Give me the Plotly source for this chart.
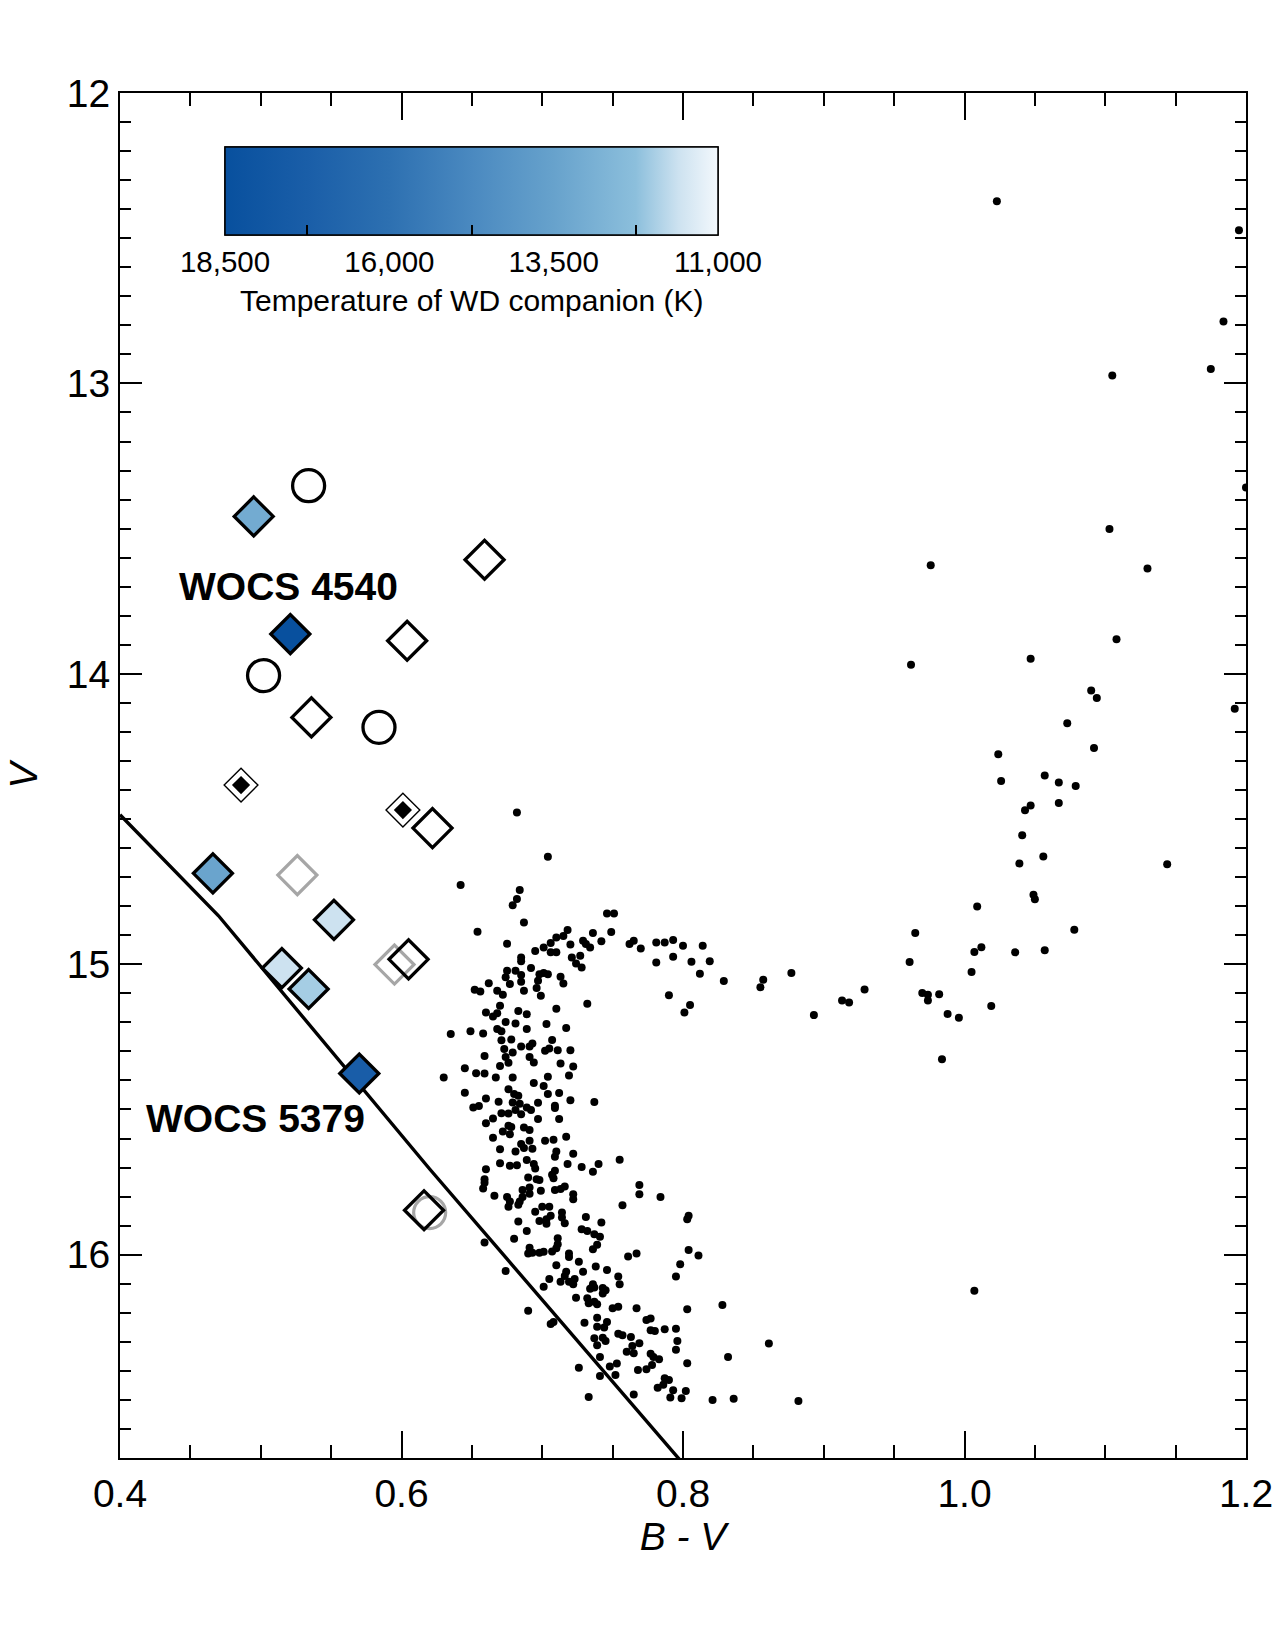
import plotly.graph_objects as go

FONT = "Liberation Sans, Arial, Helvetica, sans-serif"

# ---------------- field stars (B-V, V) ----------------
giants = [
    (1.023, 12.373), (1.195, 12.473), (1.184, 12.787), (1.175, 12.950), (1.105, 12.973),
    (1.200, 13.358), (1.103, 13.501), (0.976, 13.626), (1.130, 13.637), (1.108, 13.881),
    (0.962, 13.969), (1.047, 13.948), (1.090, 14.057), (1.094, 14.083), (1.192, 14.120),
    (1.073, 14.170), (1.092, 14.255), (1.024, 14.277), (1.026, 14.369), (1.057, 14.350),
    (1.067, 14.374), (1.079, 14.386), (1.047, 14.453), (1.043, 14.470), (1.067, 14.445),
    (1.041, 14.556), (1.039, 14.653), (1.056, 14.629), (1.144, 14.656), (1.049, 14.761),
    (1.050, 14.776), (1.009, 14.801), (0.965, 14.892), (1.078, 14.881), (1.012, 14.941),
    (1.007, 14.958), (1.036, 14.959), (1.057, 14.952), (0.961, 14.992), (1.005, 15.027),
    (0.929, 15.087), (0.913, 15.125), (0.918, 15.132), (0.970, 15.099), (0.974, 15.105),
    (0.974, 15.125), (0.982, 15.103), (1.019, 15.144), (0.988, 15.171), (0.996, 15.184),
    (0.984, 15.327), (1.007, 16.124),
]

subgiants = [
    (0.682, 14.477), (0.704, 14.630), (0.642, 14.727), (0.684, 14.744), (0.682, 14.775),
    (0.679, 14.797), (0.687, 14.856), (0.654, 14.888), (0.746, 14.825), (0.751, 14.825),
    (0.675, 14.929), (0.749, 14.889), (0.736, 14.892), (0.742, 14.921), (0.718, 14.882),
    (0.715, 14.903), (0.710, 14.908), (0.720, 14.932), (0.729, 14.919), (0.731, 14.930),
    (0.734, 14.942), (0.706, 14.927), (0.701, 14.942), (0.706, 14.959), (0.710, 14.959),
    (0.695, 14.954), (0.685, 14.977), (0.685, 14.990), (0.721, 14.977), (0.727, 14.971),
    (0.724, 14.997), (0.728, 15.011), (0.762, 14.930), (0.765, 14.919), (0.770, 14.946),
    (0.781, 14.925), (0.787, 14.925), (0.793, 14.916), (0.800, 14.936), (0.814, 14.936),
    (0.781, 14.994), (0.793, 14.974), (0.806, 14.991), (0.819, 14.990), (0.812, 15.033),
    (0.829, 15.058), (0.790, 15.107), (0.805, 15.140), (0.801, 15.166), (0.855, 15.079),
    (0.857, 15.053), (0.877, 15.030), (0.893, 15.175), (0.732, 15.136),
]

ms_upper = [
    (0.675, 15.022), (0.681, 15.022), (0.674, 15.045), (0.677, 15.068), (0.685, 15.037),
    (0.685, 15.060), (0.692, 15.013), (0.698, 15.034), (0.701, 15.030), (0.704, 15.034),
    (0.713, 15.043), (0.715, 15.066), (0.697, 15.057), (0.696, 15.082), (0.699, 15.108),
    (0.687, 15.091), (0.662, 15.065), (0.652, 15.088), (0.656, 15.094), (0.668, 15.091),
    (0.672, 15.105), (0.670, 15.143), (0.660, 15.166), (0.665, 15.180), (0.668, 15.169),
    (0.683, 15.161), (0.689, 15.172), (0.710, 15.153), (0.674, 15.199), (0.681, 15.204),
    (0.689, 15.223), (0.668, 15.223), (0.671, 15.231), (0.703, 15.206), (0.717, 15.219),
    (0.635, 15.240), (0.649, 15.231), (0.658, 15.238), (0.678, 15.259), (0.671, 15.262),
    (0.707, 15.261), (0.673, 15.292), (0.679, 15.304), (0.685, 15.283), (0.691, 15.283),
    (0.693, 15.273), (0.702, 15.298), (0.705, 15.290), (0.711, 15.296), (0.720, 15.296),
    (0.659, 15.316), (0.674, 15.319), (0.676, 15.339), (0.670, 15.350), (0.691, 15.319),
    (0.694, 15.338), (0.713, 15.342), (0.722, 15.352), (0.645, 15.358), (0.653, 15.375),
    (0.659, 15.376), (0.630, 15.390), (0.667, 15.390), (0.679, 15.390), (0.704, 15.387),
    (0.719, 15.383),
]

ms_middle = [
    (0.694, 15.409), (0.701, 15.419), (0.645, 15.442), (0.676, 15.430), (0.680, 15.447),
    (0.683, 15.453), (0.704, 15.447), (0.712, 15.443), (0.660, 15.462), (0.669, 15.473),
    (0.679, 15.476), (0.684, 15.480), (0.697, 15.477), (0.720, 15.468), (0.737, 15.474),
    (0.651, 15.493), (0.655, 15.488), (0.681, 15.502), (0.689, 15.493), (0.692, 15.502),
    (0.671, 15.513), (0.676, 15.514), (0.685, 15.516), (0.709, 15.487), (0.709, 15.495),
    (0.697, 15.533), (0.712, 15.533), (0.665, 15.531), (0.660, 15.547), (0.676, 15.556),
    (0.678, 15.560), (0.687, 15.562), (0.691, 15.571), (0.672, 15.576), (0.677, 15.585),
    (0.665, 15.597), (0.717, 15.594), (0.702, 15.608), (0.708, 15.604), (0.691, 15.608),
    (0.685, 15.619), (0.687, 15.633), (0.693, 15.635), (0.670, 15.637), (0.681, 15.645),
    (0.710, 15.645), (0.709, 15.663), (0.722, 15.652), (0.755, 15.673), (0.689, 15.674),
    (0.670, 15.685), (0.677, 15.694), (0.682, 15.692), (0.694, 15.688), (0.695, 15.703),
    (0.718, 15.688), (0.728, 15.698), (0.740, 15.688), (0.736, 15.714), (0.660, 15.706),
    (0.709, 15.711), (0.707, 15.725), (0.690, 15.734), (0.696, 15.740), (0.698, 15.743),
    (0.708, 15.737), (0.659, 15.740), (0.659, 15.752), (0.658, 15.772), (0.769, 15.760),
    (0.769, 15.792), (0.784, 15.801), (0.691, 15.769), (0.686, 15.777), (0.699, 15.780),
    (0.709, 15.777), (0.713, 15.774), (0.716, 15.765), (0.691, 15.790), (0.686, 15.801),
    (0.666, 15.797), (0.675, 15.801), (0.677, 15.817), (0.676, 15.835), (0.684, 15.817),
    (0.683, 15.828), (0.722, 15.792), (0.722, 15.809), (0.757, 15.830), (0.700, 15.835),
    (0.705, 15.835), (0.695, 15.852), (0.714, 15.855), (0.714, 15.872), (0.706, 15.866),
    (0.703, 15.878), (0.698, 15.884), (0.703, 15.893), (0.731, 15.870), (0.742, 15.889),
    (0.716, 15.892), (0.683, 15.886), (0.804, 15.866), (0.803, 15.878), (0.689, 15.918),
    (0.728, 15.912), (0.732, 15.918), (0.737, 15.930), (0.741, 15.938), (0.680, 15.945),
    (0.711, 15.943),
]

ms_lower = [
    (0.659, 15.958), (0.691, 15.976), (0.690, 15.996), (0.693, 15.993), (0.698, 15.993),
    (0.701, 15.990), (0.707, 15.989), (0.710, 15.978), (0.711, 15.964), (0.719, 15.996),
    (0.719, 16.008), (0.736, 15.981), (0.739, 15.966), (0.761, 16.006), (0.767, 15.996),
    (0.804, 15.984), (0.811, 16.003), (0.798, 16.033), (0.795, 16.075), (0.710, 16.036),
    (0.726, 16.024), (0.738, 16.041), (0.746, 16.053), (0.729, 16.059), (0.717, 16.059),
    (0.716, 16.073), (0.674, 16.056), (0.705, 16.084), (0.701, 16.110), (0.713, 16.093),
    (0.719, 16.093), (0.723, 16.084), (0.722, 16.102), (0.754, 16.075), (0.755, 16.102),
    (0.736, 16.102), (0.734, 16.117), (0.737, 16.113), (0.743, 16.115), (0.745, 16.122),
    (0.743, 16.134), (0.724, 16.148), (0.732, 16.150), (0.733, 16.167), (0.737, 16.162),
    (0.739, 16.171), (0.750, 16.184), (0.754, 16.179), (0.767, 16.184), (0.803, 16.188),
    (0.690, 16.193), (0.706, 16.239), (0.708, 16.232), (0.730, 16.234), (0.739, 16.217),
    (0.746, 16.232), (0.739, 16.248), (0.744, 16.251), (0.774, 16.225), (0.777, 16.220),
    (0.777, 16.260), (0.780, 16.263), (0.787, 16.257), (0.795, 16.255), (0.754, 16.272),
    (0.757, 16.277), (0.763, 16.283), (0.737, 16.288), (0.743, 16.286), (0.745, 16.297),
    (0.739, 16.312), (0.764, 16.314), (0.769, 16.305), (0.760, 16.334), (0.765, 16.339),
    (0.796, 16.297), (0.795, 16.327), (0.777, 16.341), (0.779, 16.352), (0.783, 16.360),
    (0.741, 16.352), (0.726, 16.389), (0.748, 16.385), (0.753, 16.375), (0.741, 16.418),
    (0.752, 16.414), (0.768, 16.397), (0.774, 16.394), (0.778, 16.380), (0.803, 16.374),
    (0.787, 16.425), (0.790, 16.431), (0.782, 16.458), (0.786, 16.448), (0.793, 16.467),
    (0.802, 16.469), (0.791, 16.492), (0.799, 16.494), (0.765, 16.481), (0.733, 16.490),
    (0.821, 16.500), (0.861, 16.306), (0.828, 16.173), (0.832, 16.352), (0.882, 16.504),
    (0.836, 16.496),
]

# ---------------- ZAMS-like reference line ----------------
line_bv = [0.400, 0.470, 0.620, 0.800]
line_v = [14.485, 14.833, 15.705, 16.719]

# ---------------- special stars ----------------
circ_bv = [0.534, 0.502, 0.584]
circ_v = [13.352, 14.006, 14.184]

gray_circ_bv = [0.620]
gray_circ_v = [15.855]

open_dia_bv = [0.659, 0.604, 0.536, 0.622, 0.605, 0.616]
open_dia_v = [13.607, 13.886, 14.150, 14.531, 14.983, 15.847]

gray_dia_bv = [0.526, 0.595]
gray_dia_v = [14.693, 15.001]

dot_dia_bv = [0.486, 0.601]
dot_dia_v = [14.383, 14.469]

wd_bv = [0.495, 0.521, 0.466, 0.552, 0.515, 0.534, 0.570]
wd_v = [13.458, 13.863, 14.687, 14.847, 15.013, 15.085, 15.376]
wd_temp = [13100, 18500, 13400, 11600, 11600, 12000, 17300]

# colour bar
T_MIN, T_MAX = 11000, 18500
cb_major = [18500, 16000, 13500, 11000]
cb_major_text = ["18,500", "16,000", "13,500", "11,000"]
cb_minor = [17250, 14750, 12250]
cb_title = "Temperature of WD companion (K)"

labels = ["WOCS 4540", "WOCS 5379"]
label_bv = [0.5197, 0.4963]
label_v = [13.700, 15.531]

# colour scale: position 0 = hottest (18,500 K, left), 1 = coolest (11,000 K, right)
cscale = [
    [0.0, "#08509e"], [0.167, "#1a5ea8"], [0.333, "#2d70b1"], [0.5, "#4a89c0"],
    [0.667, "#67a2cc"], [0.833, "#8cbfdc"], [0.92, "#cde2f0"], [1.0, "#f3f8fc"],
]

# plot-area geometry (pixels)
W, H = 1275, 1650
ML, MR, MT, MB = 120, 29, 93, 192
PW, PH = W - ML - MR, H - MT - MB

fig = go.Figure()

field = giants + subgiants + ms_upper + ms_middle + ms_lower
fig.add_trace(go.Scatter(
    x=[p[0] for p in field], y=[p[1] for p in field], mode="markers",
    marker=dict(size=8, color="black", line=dict(width=0)), hoverinfo="skip"))

fig.add_trace(go.Scatter(x=line_bv, y=line_v, mode="lines",
                         line=dict(color="black", width=3.4), hoverinfo="skip"))

# gray (behind)
fig.add_trace(go.Scatter(x=gray_circ_bv, y=gray_circ_v, mode="markers",
    marker=dict(symbol="circle-open", size=32, color="#a6a6a6", line=dict(width=3.2, color="#a6a6a6"))))
fig.add_trace(go.Scatter(x=gray_dia_bv, y=gray_dia_v, mode="markers",
    marker=dict(symbol="diamond-open", size=30, color="#a6a6a6", line=dict(width=3.2, color="#a6a6a6"))))

fig.add_trace(go.Scatter(x=circ_bv, y=circ_v, mode="markers",
    marker=dict(symbol="circle-open", size=32, color="black", line=dict(width=3.3, color="black"))))
fig.add_trace(go.Scatter(x=open_dia_bv, y=open_dia_v, mode="markers",
    marker=dict(symbol="diamond-open", size=30, color="black", line=dict(width=3.3, color="black"))))

fig.add_trace(go.Scatter(x=dot_dia_bv, y=dot_dia_v, mode="markers",
    marker=dict(symbol="diamond", size=26, color="white", line=dict(width=1.4, color="black"))))
fig.add_trace(go.Scatter(x=dot_dia_bv, y=dot_dia_v, mode="markers",
    marker=dict(symbol="diamond", size=14, color="black", line=dict(width=0))))

cb_common = dict(
    orientation="h", x=(471.5 - ML) / PW, xanchor="center", y=(H - MB - 147) / PH,
    yanchor="top", lenmode="pixels", len=493, thicknessmode="pixels", thickness=88,
    xpad=0, ypad=0, outlinewidth=1.5, outlinecolor="black", ticks="inside",
    tickcolor="black", tickwidth=1.5, tickmode="array",
)

fig.add_trace(go.Scatter(
    x=wd_bv, y=wd_v, mode="markers",
    marker=dict(symbol="diamond", size=30, color=[-t for t in wd_temp], colorscale=cscale,
                cmin=-T_MAX, cmax=-T_MIN, line=dict(width=3.3, color="black"),
                showscale=True,
                colorbar=dict(**cb_common, tickvals=[-t for t in cb_major], ticktext=cb_major_text,
                              ticklen=22, tickfont=dict(size=29.5, family=FONT, color="black")))))

# second, identical colour bar carrying only the minor ticks
fig.add_trace(go.Scatter(
    x=[None], y=[None], mode="markers",
    marker=dict(color=[-T_MAX], colorscale=cscale, cmin=-T_MAX, cmax=-T_MIN, showscale=True,
                colorbar=dict(**cb_common, tickvals=[-t for t in cb_minor], ticktext=["", "", ""],
                              ticklen=10, showticklabels=False))))

# colour-bar title
fig.add_annotation(xref="paper", yref="paper", x=(472 - ML) / PW, y=(H - MB - 300) / PH,
                   text=cb_title, showarrow=False, xanchor="center", yanchor="middle",
                   font=dict(size=30, family=FONT, color="black"))

for txt, bx, vy in zip(labels, label_bv, label_v):
    fig.add_annotation(x=bx, y=vy, text=f"<b>{txt}</b>", showarrow=False,
                       font=dict(size=39, family=FONT, color="black"))

fig.update_layout(
    width=W, height=H, margin=dict(l=ML, r=MR, t=MT, b=MB, autoexpand=False),
    plot_bgcolor="white", paper_bgcolor="white", showlegend=False,
    font=dict(family=FONT, color="black"),
)
fig.update_xaxes(
    range=[0.4, 1.2], tick0=0.4, dtick=0.2, tickformat=".1f", ticks="inside", ticklen=27,
    tickwidth=1.5, tickcolor="black", automargin=False,
    minor=dict(tick0=0.4, dtick=0.05, ticks="inside", ticklen=13, tickwidth=1.5, tickcolor="black"),
    showline=True, linewidth=2, linecolor="black", mirror="allticks", showgrid=False,
    zeroline=False, tickfont=dict(size=39, family=FONT),
    title=dict(text="<i>B - V</i>", font=dict(size=39, family=FONT), standoff=9),
)
fig.update_yaxes(
    range=[16.7, 12], tick0=12, dtick=1, tickformat="d", ticks="inside", ticklen=22,
    tickwidth=1.5, tickcolor="black", automargin=False,
    minor=dict(tick0=12, dtick=0.1, ticks="inside", ticklen=11, tickwidth=1.5, tickcolor="black"),
    showline=True, linewidth=2, linecolor="black", mirror="allticks", showgrid=False,
    zeroline=False, tickfont=dict(size=39, family=FONT),
    title=dict(text="<i>V</i>", font=dict(size=39, family=FONT), standoff=17),
)

fig.write_html("out.html")
